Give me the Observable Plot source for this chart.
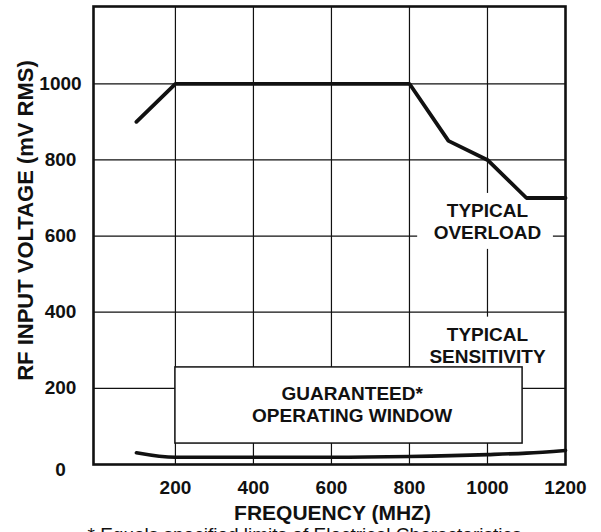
<!DOCTYPE html>
<html><head><meta charset="utf-8">
<script src="https://cdn.jsdelivr.net/npm/d3@7"></script>
<script src="https://cdn.jsdelivr.net/npm/@observablehq/plot@0.6"></script>
<style>
html,body{margin:0;padding:0;background:#fff;overflow:hidden}
</style>
</head><body><div id="chart"></div>
<script>
// Data
const overloadFreq = [100, 200, 800, 900, 1000, 1100, 1200];
const overloadMv   = [900, 1000, 1000, 850, 800, 700, 700];
const sensFreq = [100, 200, 400, 600, 800, 1000, 1100, 1200];
const sensMv   = [31, 19, 19, 19, 21, 26, 30, 37];
const xTicks = [200, 400, 600, 800, 1000, 1200];
const yTicks = [200, 400, 600, 800, 1000];
const yZero = [0];
const gridX = [200, 400, 600, 800, 1000];
const gridY = [200, 400, 600, 800, 1000];
// Guaranteed operating window (MHz, mV)
const windowBox = [{x1: 200, x2: 1090, y1: 55, y2: 255}];
// White areas behind the annotation text
const textCovers = [
  {x1: 821, x2: 1169, y1: 565, y2: 712},
  {x1: 830, x2: 1170, y1: 255, y2: 387}
];
const labels = [
  {x: 1000, y: 640, text: "TYPICAL\nOVERLOAD"},
  {x: 1000, y: 313, text: "TYPICAL\nSENSITIVITY"},
  {x: 653, y: 160, text: "GUARANTEED*\nOPERATING WINDOW"}
];
const xTitle = "FREQUENCY (MHZ)";
const yTitle = "RF INPUT VOLTAGE (mV RMS)";
const caption = "* Equals specified limits of Electrical Characteristics";

const overload = overloadFreq.map((f, i) => ({f, v: overloadMv[i]}));
const sens = sensFreq.map((f, i) => ({f, v: sensMv[i]}));
const font = "'Liberation Sans', Arial, Helvetica, sans-serif";
const ink = "#111";

const plot = Plot.plot({
  width: 601,
  height: 545,
  marginLeft: 93,
  marginRight: 36,
  marginTop: 6,
  marginBottom: 81,
  x: {domain: [-10, 1200], axis: null},
  y: {domain: [0, 1203], axis: null},
  style: {fontFamily: font, background: "white", color: ink},
  marks: [
    Plot.ruleX(gridX, {stroke: ink, strokeWidth: 1.2}),
    Plot.ruleY(gridY, {stroke: ink, strokeWidth: 1.2}),
    Plot.rect(textCovers, {x1: "x1", x2: "x2", y1: "y1", y2: "y2", fill: "white"}),
    Plot.rect(windowBox, {x1: "x1", x2: "x2", y1: "y1", y2: "y2", fill: "white", stroke: ink, strokeWidth: 1.5}),
    Plot.line(overload, {x: "f", y: "v", stroke: ink, strokeWidth: 3.8, strokeLinejoin: "miter"}),
    Plot.line(sens, {x: "f", y: "v", stroke: ink, strokeWidth: 3.6, curve: "monotone-x"}),
    Plot.text(labels, {x: "x", y: "y", text: "text", fontSize: 19, fontWeight: "bold", lineHeight: 1.16, fill: ink, fontFamily: font}),
    Plot.frame({stroke: ink, strokeWidth: 2.6}),
    Plot.axisX({ticks: xTicks, tickFormat: d => String(d), tickSize: 0, tickPadding: 16, fontSize: 19, fontWeight: "bold", label: null, fill: ink, fontFamily: font}),
    Plot.axisY({ticks: yTicks, tickFormat: d => String(d), tickSize: 0, tickPadding: 33, textAnchor: "middle", fontSize: 19, fontWeight: "bold", label: null, fill: ink, fontFamily: font}),
    Plot.axisY({ticks: yZero, tickFormat: d => String(d), tickSize: 0, tickPadding: 33, textAnchor: "middle", dy: 5, fontSize: 19, fontWeight: "bold", label: null, fill: ink, fontFamily: font}),
    Plot.text([xTitle], {frameAnchor: "bottom", textAnchor: "middle", lineAnchor: "middle", dx: 3, dy: 49, fontSize: 21, fontWeight: "bold", fill: ink, fontFamily: font}),
    Plot.text([yTitle], {frameAnchor: "left", textAnchor: "middle", lineAnchor: "middle", rotate: -90, dx: -68, dy: -15, fontSize: 22, fontWeight: "bold", fill: ink, fontFamily: font}),
    Plot.text([caption], {frameAnchor: "bottom-left", textAnchor: "start", lineAnchor: "middle", dx: -6, dy: 70, fontSize: 19, fill: ink, fontFamily: font})
  ]
});
document.getElementById("chart").appendChild(plot);
</script>
</body></html>
